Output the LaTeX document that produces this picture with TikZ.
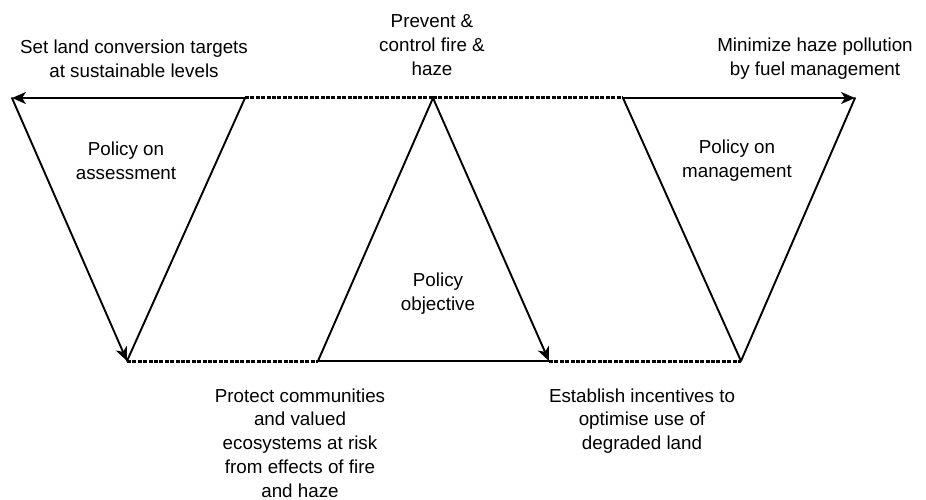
\documentclass[tikz,border=0pt]{standalone}
\usepackage{fontspec}
\setmainfont{Liberation Sans}
\usetikzlibrary{arrows.meta}
\begin{document}
\begin{tikzpicture}[x=1pt,y=-1pt,
  edge/.style={line width=1.9pt,line cap=round,line join=round},
  arr/.style={edge,-{Stealth[length=14pt,width=12pt,inset=4pt]}},
  dotline/.style={line width=3pt,dash pattern=on 4pt off 1.4pt},
  lbl/.style={align=center,inner sep=0pt,font=\fontsize{18.8}{23.8}\selectfont}]
\useasboundingbox (0,0) rectangle (926,500);
% vertices
\coordinate (L1) at (12,98);
\coordinate (L2) at (245,98);
\coordinate (L3) at (127,361);
\coordinate (M1) at (433,98);
\coordinate (M2) at (318,361);
\coordinate (M3) at (549,361);
\coordinate (R1) at (623,98);
\coordinate (R2) at (855,98);
\coordinate (R3) at (741,361);
% dotted links
\draw[dotline] (L2) -- (M1);
\draw[dotline] (M1) -- (R1);
\draw[dotline] (L3) -- (M2);
\draw[dotline] (M3) -- (R3);
% left triangle
\draw[arr] (L2) -- (L1);
\draw[arr] (L1) -- (L3);
\draw[edge] (L2) -- (L3);
% middle triangle
\draw[edge] (M3) -- (M2) -- (M1);
\draw[arr] (M1) -- (M3);
% right triangle
\draw[arr] (R1) -- (R2);
\draw[edge] (R1) -- (R3) -- (R2);
% labels
\node[lbl] (tl) at (134,59) {Set land conversion targets\\at sustainable levels};
\node[lbl] (tm) at (432,45) {Prevent \&\\control fire \&\\haze};
\node[lbl] (tr) at (815,59) {Minimize haze pollution\\by fuel management};
\node[lbl] (pa) at (126,161) {Policy on\\assessment};
\node[lbl] (po) at (438,294) {Policy\\objective};
\node[lbl] (pm) at (737,161) {Policy on\\management};
\node[lbl] (bl) at (300,443) {Protect communities\\and valued\\ecosystems at risk\\from effects of fire\\and haze};
\node[lbl] (br) at (642,421) {Establish incentives to\\optimise use of\\degraded land};
\end{tikzpicture}
\end{document}
